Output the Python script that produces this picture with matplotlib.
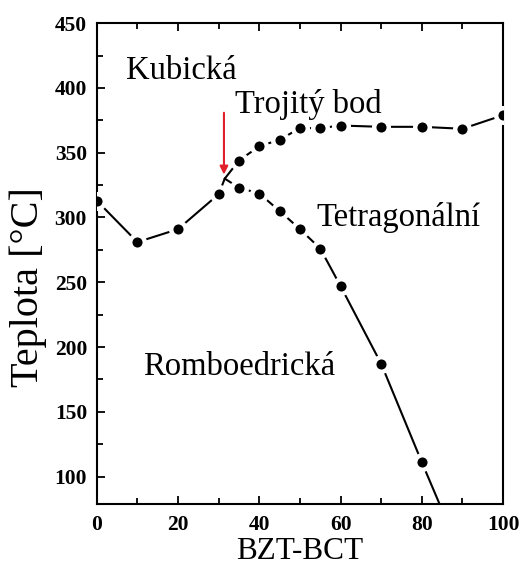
import numpy as np
import matplotlib.pyplot as plt
from matplotlib.ticker import MultipleLocator

# ============================
# DATA
# ============================
# left branch: rhombohedral -> cubic, up to the triple point and on to the cubic/tetragonal line
upper_x = [0, 10, 20, 30, 31.5, 35, 40, 45, 50, 55, 60, 70, 80, 90, 100]
upper_y = [313, 281, 291, 318, 330, 344, 355, 360, 369, 369, 371, 370, 370, 368.5, 379]
upper_marked = [True, True, True, True, False, True, True, True, True, True, True, True, True, True, True]

# rhombohedral / tetragonal boundary, from the triple point downwards
lower_x = [31.5, 35, 40, 45, 50, 55, 60, 70, 80, 85]
lower_y = [330, 323, 318.5, 305, 291, 276, 247, 187, 111, 74]
lower_marked = [False, True, True, True, True, True, True, True, True, False]

labels = ["Kubická", "Trojitý bod", "Tetragonální", "Romboedrická"]
label_x = [7.3, 34, 54, 11.5]
label_y = [413, 387, 300, 185]

triple_x = 31.3
arrow_top = 383
arrow_tip = 331

plt.rcParams['font.family'] = ['Liberation Serif', 'DejaVu Serif']

fig = plt.figure(figsize=(5.23, 5.66), dpi=100)
ax = fig.add_axes([0.185, 0.110, 0.777, 0.849])

for xs, ys, marked in [(upper_x, upper_y, upper_marked), (lower_x, lower_y, lower_marked)]:
    xs = np.array(xs)
    ys = np.array(ys)
    m = np.array(marked)
    ax.plot(xs, ys, color="black", lw=1.5, zorder=2)
    ax.plot(xs[m], ys[m], "o", color="black", ms=10.5, mec="white", mew=3.2, zorder=3)

for t, x, y in zip(labels, label_x, label_y):
    ax.text(x, y, t, fontsize=23.5, va="center", ha="left")

ax.annotate("", xy=(triple_x, arrow_tip), xytext=(triple_x, arrow_top),
            arrowprops=dict(arrowstyle="-|>", color="#e0202a", lw=1.5, mutation_scale=12))

ax.set_xlim(0, 100)
ax.set_ylim(79, 450)
ax.xaxis.set_major_locator(MultipleLocator(20))
ax.xaxis.set_minor_locator(MultipleLocator(10))
ax.yaxis.set_major_locator(MultipleLocator(50))
ax.yaxis.set_minor_locator(MultipleLocator(25))
ax.tick_params(which="both", direction="in", top=True, right=False, width=1.3)
ax.tick_params(which="major", length=6, labelsize=15.5)
ax.tick_params(axis="y", which="major", pad=7)
ax.tick_params(axis="x", which="major", pad=8)
ax.tick_params(which="minor", length=4)
for lab in ax.get_xticklabels() + ax.get_yticklabels():
    lab.set_fontweight("bold")
for s in ax.spines.values():
    s.set_linewidth(1.5)

ax.set_xlabel("BZT-BCT", fontsize=22.5)
ax.xaxis.set_label_coords(0.5, -0.114)
ax.xaxis.label.set_va("baseline")
ax.set_ylabel("Teplota [°C]", fontsize=29)
ax.yaxis.set_label_coords(-0.168, 0.45)
ax.yaxis.label.set_va("center")

fig.savefig("out.png", dpi=100)
